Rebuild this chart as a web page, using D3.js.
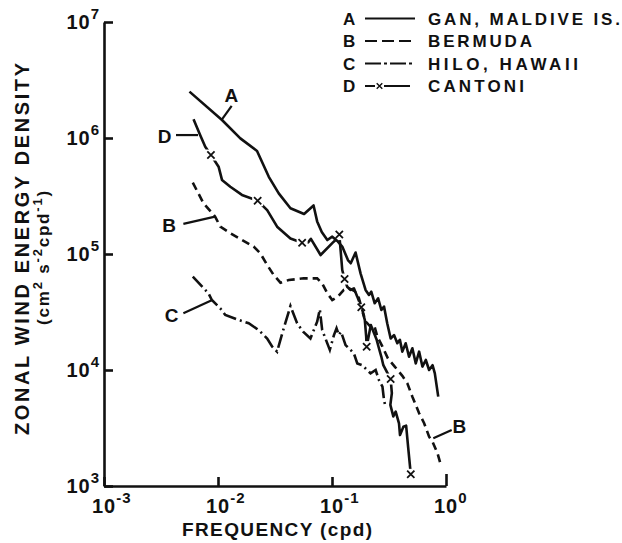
<!DOCTYPE html>
<html><head><meta charset="utf-8">
<script src="https://cdn.jsdelivr.net/npm/d3@7"></script>
<style>
body{margin:0;background:#fff}
svg{display:block}
text{font-family:"Liberation Sans",Arial,sans-serif;font-weight:bold;fill:#111}
</style>
</head><body>
<svg id="c" width="622" height="543"></svg>
<script>
// ---- data (frequency in cpd, energy density in cm^2 s^-2 cpd^-1) ----
const freqA=[0.00562,0.01084,0.0157,0.0220,0.0279,0.0341,0.0432,0.0569,0.0689,0.0741,0.0813,0.0910,0.1005,0.1127,0.123,0.138,0.146,0.161,0.178,0.197,0.211,0.221,0.237,0.254,0.271,0.286,0.305,0.327,0.350,0.374,0.394,0.414,0.443,0.474,0.507,0.543,0.581,0.621,0.665,0.711,0.762,0.798,0.855];
const energyA=[2.51e6,1.43e6,9.93e5,7.73e5,4.63e5,3.33e5,2.48e5,2.21e5,2.62e5,1.91e5,1.55e5,1.32e5,1.41e5,1.28e5,1.16e5,8.87e4,8.32e4,1.03e5,6.81e4,4.90e4,4.44e4,4.73e4,3.76e4,4.15e4,3.29e4,3.52e4,2.53e4,1.87e4,2.00e4,1.70e4,1.82e4,1.44e4,1.70e4,1.30e4,1.54e4,1.14e4,1.44e4,1.07e4,1.22e4,1.0e4,1.10e4,9.35e3,5.9e3];

const freqB=[0.00601,0.00746,0.00944,0.01047,0.01282,0.01622,0.02056,0.02355,0.0270,0.0308,0.0353,0.0418,0.0566,0.0741,0.0820,0.0910,0.1005,0.1127,0.127,0.141,0.158,0.172,0.184,0.197,0.214,0.234,0.250,0.277,0.309,0.355,0.414,0.458,0.507,0.581,0.643,0.711,0.762,0.843,0.889];
const energyB=[4.12e5,2.74e5,2.10e5,1.72e5,1.51e5,1.32e5,1.16e5,1.01e5,8.04e4,6.59e4,5.66e4,5.97e4,6.17e4,6.17e4,5.58e4,4.58e4,4.01e4,4.29e4,4.90e4,5.06e4,4.79e4,4.17e4,3.31e4,2.63e4,2.40e4,2.45e4,1.94e4,1.59e4,1.26e4,1.07e4,8.91e3,7.67e3,5.89e3,4.24e3,3.48e3,2.66e3,2.41e3,1.91e3,1.59e3];

const freqC=[0.00601,0.00826,0.00883,0.01047,0.01159,0.01517,0.01858,0.02275,0.0270,0.0299,0.0330,0.0366,0.0432,0.0494,0.0558,0.0647,0.0741,0.0782,0.0820,0.0957,0.104,0.1096,0.115,0.120,0.1315,0.1455,0.1556,0.1667,0.1845,0.197,0.218,0.2415,0.258,0.277,0.286,0.295];
const energyC=[6.37e4,4.58e4,4.01e4,3.40e4,2.98e4,2.70e4,2.53e4,2.21e4,1.87e4,1.59e4,1.44e4,2.07e4,3.56e4,2.53e4,2.14e4,1.87e4,2.61e4,3.33e4,2.21e4,1.49e4,2.00e4,2.29e4,2.0e4,2.14e4,1.64e4,1.49e4,1.39e4,1.14e4,1.10e4,1.03e4,9.35e3,1.0e4,8.2e3,7.18e3,5.51e3,4.79e3];

const freqD=[0.00610,0.00697,0.00773,0.00867,0.01012,0.01084,0.01282,0.01622,0.02228,0.0270,0.0330,0.0432,0.0547,0.0617,0.0653,0.0794,0.1005,0.1074,0.1159,0.119,0.123,0.129,0.136,0.1455,0.1556,0.1667,0.1807,0.194,0.1995,0.2014,0.219,0.234,0.2466,0.258,0.271,0.282,0.327,0.335,0.325,0.345,0.362,0.387,0.395,0.423,0.447,0.465,0.491];
const energyD=[1.45e6,1.06e6,8.41e5,7.13e5,5.66e5,4.35e5,3.80e5,3.23e5,2.88e5,2.39e5,1.72e5,1.36e5,1.25e5,1.26e5,1.35e5,9.8e4,1.24e5,1.32e5,1.47e5,1.08e5,7.28e4,6.08e4,5.22e4,4.90e4,5.06e4,4.29e4,3.47e4,2.70e4,1.94e4,1.59e4,2.44e4,2.07e4,1.82e4,1.54e4,1.30e4,1.10e4,8.36e3,6.31e3,5.01e3,3.98e3,4.37e3,3.47e3,2.75e3,3.24e3,3.31e3,2.19e3,1.26e3];
const markIdxD=[3,8,12,18,21,26,29,36,46];

const xTicks=[1e-3,1e-2,1e-1,1];
const xTickExp=["-3","-2","-1","0"];
const yTicks=[1e3,1e4,1e5,1e6,1e7];
const yTickExp=["3","4","5","6","7"];

const legendKeys=["A","B","C","D"];
const legendNames=["GAN, MALDIVE IS.","BERMUDA","HILO, HAWAII","CANTONI"];

const curveLabels=["A","D","B","C","B"];
const labelFreq=[0.01312,0.0034,0.00372,0.00391,1.31];
const labelEnergy=[2.37e6,1.04e6,1.78e5,3.0e4,3.26e3];
const leadFromF=[0.01318,0.00428,0.00497,0.00497,1.122];
const leadFromE=[1.89e6,1.06e6,1.82e5,3.08e4,3.04e3];
const leadToF=[0.01076,0.00668,0.00942,0.00881,0.774];
const leadToE=[1.43e6,1.06e6,2.10e5,4.0e4,2.58e3];

// ---- drawing ----
const svg=d3.select("#c");
const x=d3.scaleLog().domain([1e-3,1]).range([104,446]);
const y=d3.scaleLog().domain([1e3,1e7]).range([486,22]);
const ink="#111";

const gx=svg.append("g").attr("transform","translate(0,486)")
  .call(d3.axisBottom(x).tickValues(xTicks).tickSize(-9).tickSizeOuter(0).tickFormat(""));
const gy=svg.append("g").attr("transform","translate(104,0)")
  .call(d3.axisLeft(y).tickValues(yTicks).tickSize(-9).tickSizeOuter(0).tickFormat(""));
[gx,gy].forEach(g=>{g.selectAll("path,line").attr("stroke",ink).attr("stroke-width",2.6);});
gx.selectAll(".tick").filter(d=>d===1).select("line").attr("y2",-12);

// tick labels
svg.selectAll(".xl").data(xTicks).join("text").attr("class","xl")
  .attr("x",d=>x(d)-12).attr("y",513).attr("font-size",20).attr("font-weight","normal").attr("letter-spacing",1)
  .each(function(d,i){const t=d3.select(this);
    t.append("tspan").text("10");
    t.append("tspan").attr("font-size",15).attr("dy",-10).text(xTickExp[i]);});
svg.selectAll(".yl").data(yTicks).join("text").attr("class","yl")
  .attr("x",100).attr("y",d=>y(d)+7).attr("text-anchor","end").attr("font-size",20).attr("font-weight","normal").attr("letter-spacing",1)
  .each(function(d,i){const t=d3.select(this);
    t.append("tspan").text("10");
    t.append("tspan").attr("font-size",15).attr("dy",-10).text(yTickExp[i]);});

// axis titles
svg.append("text").attr("x",182).attr("y",536).attr("font-size",19)
  .attr("textLength",190).attr("lengthAdjust","spacing").text("FREQUENCY (cpd)");
svg.append("text").attr("transform","translate(29,249) rotate(-90)").attr("text-anchor","middle")
  .attr("font-size",20).attr("textLength",372).attr("lengthAdjust","spacing")
  .text("ZONAL WIND ENERGY DENSITY");
const yt2=svg.append("text").attr("transform","translate(49,257) rotate(-90)").attr("text-anchor","middle")
  .attr("font-size",17).attr("letter-spacing",1.8);
[["(cm",0],["2",1],[" s",2],["-2",1],["cpd",2],["-1",1],[")",2]].forEach(([s,k])=>{
  const ts=yt2.append("tspan").text(s);
  if(k===1) ts.attr("font-size",13).attr("dy",-7);
  if(k===2) ts.attr("dy",7);
});

// curves
const line=d3.line().x(d=>x(d[0])).y(d=>y(d[1]));
const dataA=d3.zip(freqA,energyA), dataB=d3.zip(freqB,energyB), dataC=d3.zip(freqC,energyC), dataD=d3.zip(freqD,energyD);
const sw=2.6;
svg.append("path").datum(dataD).attr("d",line).attr("fill","none").attr("stroke",ink).attr("stroke-width",sw).attr("stroke-linejoin","round");
const marks=markIdxD.map(i=>dataD[i]);
svg.selectAll(".mbg").data(marks).join("rect").attr("class","mbg")
  .attr("x",d=>x(d[0])-5.5).attr("y",d=>y(d[1])-5.5).attr("width",11).attr("height",11).attr("fill","#fff");
const xm=d3.symbol().type(d3.symbolX).size(36);
svg.selectAll(".mk").data(marks).join("path").attr("class","mk")
  .attr("transform",d=>`translate(${x(d[0])},${y(d[1])})`).attr("d",xm)
  .attr("fill",ink).attr("stroke",ink).attr("stroke-width",1.8);
svg.append("path").datum(dataA).attr("d",line).attr("fill","none").attr("stroke",ink).attr("stroke-width",sw).attr("stroke-linejoin","round");
svg.append("path").datum(dataB).attr("d",line).attr("fill","none").attr("stroke",ink).attr("stroke-width",sw).attr("stroke-dasharray","8,5");
svg.append("path").datum(dataC).attr("d",line).attr("fill","none").attr("stroke",ink).attr("stroke-width",sw).attr("stroke-dasharray","14,4,2,4");

// curve labels + leaders
curveLabels.forEach((s,i)=>{
  svg.append("line").attr("x1",x(leadFromF[i])).attr("y1",y(leadFromE[i]))
    .attr("x2",x(leadToF[i])).attr("y2",y(leadToE[i])).attr("stroke",ink).attr("stroke-width",2.2);
  svg.append("text").attr("x",x(labelFreq[i])).attr("y",y(labelEnergy[i])+7)
    .attr("text-anchor","middle").attr("font-size",19).text(s);
});

// legend
const lgBase=[24.5,47,69.5,92];
const lgWidth=[192,104,150,96];
legendKeys.forEach((k,i)=>{
  const yb=lgBase[i], ym=yb-6;
  svg.append("text").attr("x",343).attr("y",yb).attr("font-size",17).text(k);
  svg.append("text").attr("x",428).attr("y",yb).attr("font-size",17)
    .attr("textLength",lgWidth[i]).attr("lengthAdjust","spacing").text(legendNames[i]);
  const l=svg.append("line").attr("x1",365).attr("x2",i===3?410:415).attr("y1",ym).attr("y2",ym)
    .attr("stroke",ink).attr("stroke-width",2.2);
  if(i===1) l.attr("stroke-dasharray","12,5");
  if(i===2) l.attr("stroke-dasharray","16,3,3,3");
  if(i===3){
    svg.append("rect").attr("x",375).attr("y",ym-4).attr("width",9).attr("height",8).attr("fill","#fff");
    svg.append("path").attr("transform",`translate(379.5,${ym})`).attr("d",d3.symbol().type(d3.symbolX).size(22))
      .attr("fill",ink).attr("stroke",ink).attr("stroke-width",1.4);
  }
});
</script>
</body></html>
